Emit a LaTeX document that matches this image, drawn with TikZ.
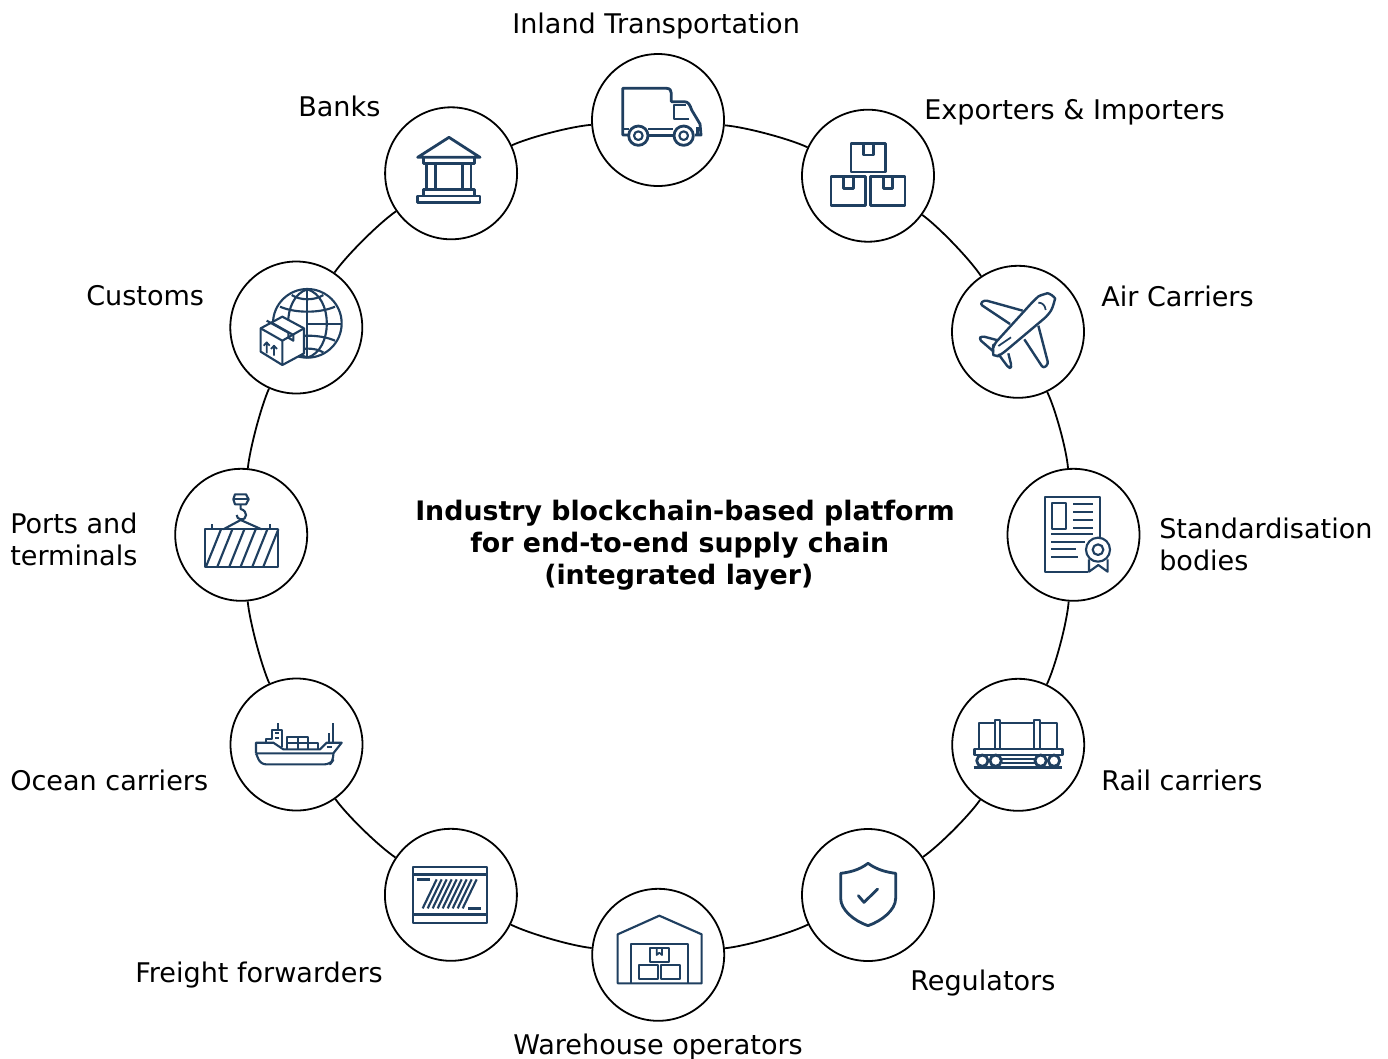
\documentclass[tikz,border=0pt]{standalone}
\usepackage{fontspec}
\setmainfont{DejaVu Sans}
\definecolor{ico}{HTML}{1F3F60}
\tikzset{
  x=0.75pt,y=-0.75pt,
  hub/.style={circle,draw=black,line width=1.35pt,minimum size=99pt,inner sep=0pt},
  ring/.style={draw=black,line width=1.35pt},
  lab/.style={anchor=base west,inner sep=0pt,font=\fontsize{20.3}{24}\selectfont},
  title/.style={anchor=base west,inner sep=0pt,font=\fontsize{20.1}{24}\selectfont\bfseries},
  zm/.style n args={2}{shift={(#1,#2)},x=0.25pt,y=-0.25pt},
  ic/.style={draw=ico,line width=2.1pt,line join=round},
  icm/.style={draw=ico,line width=1.6pt,line join=round},
  ics/.style={draw=ico,line width=1.3pt,line join=round},
  ict/.style={draw=ico,line width=2.6pt}
}
\begin{document}
\begin{tikzpicture}
\useasboundingbox[fill=white] (0,0) rectangle (1388,1058);
% hubs
\node[hub] (truck) at (658,120) {};
\node[hub] (boxes) at (868,175.7) {};
\node[hub] (plane) at (1018,331.8) {};
\node[hub] (cert) at (1073.5,534.8) {};
\node[hub] (rail) at (1018.2,744.8) {};
\node[hub] (shield) at (868,895) {};
\node[hub] (ware) at (658.2,954.8) {};
\node[hub] (freight) at (450.9,894.8) {};
\node[hub] (ship) at (296.5,744.5) {};
\node[hub] (cont) at (241.2,534.8) {};
\node[hub] (cust) at (296.3,327.5) {};
\node[hub] (bank) at (451.1,173.3) {};
% ring
\foreach \a/\b/\t in {truck/boxes/10.3,boxes/plane/10.3,plane/cert/10.6,cert/rail/10.6,rail/shield/10.3,shield/ware/10.3,ware/freight/10.3,freight/ship/10.3,ship/cont/9.2,cont/cust/9.2,cust/bank/10.3,bank/truck/10.3}
  \draw[ring] (\a) to[bend left=\t,looseness=0.6] (\b);
% labels
\node[lab] (l1) at (512,33.3) {Inland Transportation};
\node[lab] (l2) at (924,119.3) {Exporters \& Importers};
\node[lab] (l3) at (1101,306.3) {Air Carriers};
\node[lab] (l4a) at (1159,538.3) {Standardisation};
\node[lab] (l4b) at (1159,570.3) {bodies};
\node[lab] (l5) at (1101,790.3) {Rail carriers};
\node[lab] (l6) at (910,990.3) {Regulators};
\node[lab] (l7) at (513,1054.3) {Warehouse operators};
\node[lab] (l8) at (135,982.3) {Freight forwarders};
\node[lab] (l9) at (10,790.3) {Ocean carriers};
\node[lab] (l10a) at (10,533.3) {Ports and};
\node[lab] (l10b) at (10,565.3) {terminals};
\node[lab] (l11) at (86,305.3) {Customs};
\node[lab] (l12) at (298,116.3) {Banks};
\node[title] (t1) at (415,520.3) {Industry blockchain-based platform};
\node[title] (t2) at (470,552.3) {for end-to-end supply chain};
\node[title] (t3) at (544,584.3) {(integrated layer)};
% truck
\begin{scope}[zm={590}{50}]
\draw[ic] (115,255) -- (98,255) -- (98,115) -- (230,115) .. controls (240,115) and (244,122) .. (244,130) -- (244,155) -- (283,155) .. controls (295,155) and (300,165) .. (305,180) -- (330,222) -- (333,255) -- (315,255);
\draw[ic] (98,237) -- (118,237) (175,237) -- (248,237) (175,256) -- (248,256);
\draw[ic] (298,207) -- (252,207) -- (252,165) -- (288,165);
\draw[ic] (322,232) -- (322,255);
\foreach \c in {145,281}{
  \draw[ic] (\c,257) circle[radius=29];
  \draw[icm] (\c,257) circle[radius=13];
}
\end{scope}
% boxes
\begin{scope}[zm={590}{50}]
\draw[ic] (783,280) rectangle (886,366);
\draw[ic] (820,280) -- (820,315) -- (850,315) -- (850,280);
\draw[ic] (723,380) rectangle (827,467);
\draw[ic] (760,380) -- (760,415) -- (790,415) -- (790,380);
\draw[ic] (842,380) rectangle (945,467);
\draw[ic] (880,380) -- (880,415) -- (908,415) -- (908,380);
\end{scope}
% bank
\begin{scope}[zm={225}{100}]
\draw[ic] (672,112) -- (765,172) -- (578,172) -- cycle;
\draw[ic] (595,172) -- (595,190) -- (748,190) -- (748,172);
\draw[ic] (605,190) -- (605,268) (632,190) -- (632,268) (712,190) -- (712,268) (738,190) -- (738,268);
\draw[ic] (595,288) -- (595,268) -- (748,268) -- (748,288);
\draw[ic] (578,288) rectangle (765,308);
\end{scope}
% customs
\begin{scope}[zm={225}{100}]
\draw[icm] (247,670) circle[radius=103];
\draw[icm] (247,568) -- (247,773) (247,672) -- (350,672);
\draw[icm] (247,568) .. controls (170,590) and (170,750) .. (247,773);
\draw[icm] (247,568) .. controls (325,590) and (325,750) .. (247,773);
\draw[icm] (165,620) .. controls (210,640) and (285,640) .. (330,620);
\draw[icm] (200,585) .. controls (225,602) and (270,602) .. (295,585);
\draw[icm] (165,722) .. controls (210,702) and (285,702) .. (330,722);
\draw[icm] (200,757) .. controls (225,742) and (270,742) .. (295,757);
\fill[white] (172,650) -- (107,685) -- (107,755) -- (172,795) -- (237,760) -- (237,685) -- cycle;
\draw[icm] (172,650) -- (107,685) -- (107,755) -- (172,795) -- (237,760) -- (237,685) -- cycle;
\draw[icm] (107,685) -- (172,722) -- (237,685) (172,722) -- (172,795);
\draw[icm] (140,668) -- (205,705) -- (205,722) -- (190,713) -- (190,698) -- (125,662);
\draw[ics] (125,760) -- (125,727) (116,737) -- (125,727) -- (134,737);
\draw[ics] (147,767) -- (147,737) (138,747) -- (147,737) -- (156,747);
\end{scope}
% plane
\begin{scope}[zm={945}{260}]
\draw[ic,line width=1.8pt,rounded corners=4pt] (145,255) -- (268,120) .. controls (285,105) and (310,100) .. (322,102) .. controls (330,115) and (325,140) .. (310,165) -- (172,281) .. controls (160,288) and (145,285) .. (143,270) -- cycle;
\draw[ic,line width=1.8pt,rounded corners=2pt] (233,152) -- (118,120) -- (105,132) -- (195,192);
\draw[ic,line width=1.8pt,rounded corners=2pt] (280,197) -- (310,312) -- (295,325) -- (238,238);
\draw[ic,line width=1.8pt,rounded corners=2pt] (155,240) -- (110,228) -- (102,237) -- (146,275);
\draw[ic,line width=1.8pt,rounded corners=2pt] (160,282) -- (192,325) -- (200,320) -- (190,280);
\draw[ics] (160,258) -- (198,232);
\draw[ics] (280,128) .. controls (292,128) and (300,135) .. (302,150);
\end{scope}
% certificate
\begin{scope}[zm={945}{260}]
\draw[icm] (430,935) -- (300,935) -- (300,710) -- (465,710) -- (465,832);
\draw[icm] (320,730) rectangle (362,806);
\foreach \y in {733,757,780,803} \draw[icm] (385,\y) -- (443,\y);
\draw[icm] (318,822) -- (443,822);
\draw[icm] (318,845) -- (420,845) (318,868) -- (393,868) (318,891) -- (400,891);
\draw[icm] (459,869) circle[radius=36];
\draw[icm] (459,869) circle[radius=16];
\draw[icm] (432,898) -- (432,935) -- (460,915) -- (488,935) -- (488,898);
\end{scope}
% container
\begin{scope}[zm={170}{465}]
\draw[icm] (105,193) rectangle (325,305);
\foreach \b in {108,142,178,212,247,280} \draw[icm] (\b,305) -- (\b+45,193);
\draw[icm] (195,88) -- (228,88) -- (236,103) -- (228,118) -- (195,118) -- (190,103) -- cycle;
\draw[icm] (190,103) -- (236,103);
\draw[icm] (212,118) -- (212,132) .. controls (235,138) and (232,165) .. (212,163) .. controls (205,162) and (200,157) .. (200,150);
\draw[icm] (160,193) -- (212,165) -- (275,193);
\draw[icm] (125,178) -- (125,193) (300,178) -- (300,193);
\end{scope}
% ship
\begin{scope}[zm={170}{465}]
\draw[icm] (258,865) -- (258,833) -- (310,833) -- (340,853) -- (450,853) -- (470,833) -- (515,833) -- (490,865) -- (258,865);
\draw[icm,rounded corners=4pt] (258,865) -- (272,898) -- (480,898) -- (490,885) -- (490,865);
\draw[icm] (287,833) -- (287,822) -- (305,822) -- (305,795) -- (335,795) -- (335,845);
\draw[icm] (323,775) -- (323,795) (490,775) -- (490,833) (478,805) -- (478,833);
\draw[ics] (315,805) -- (327,805) (315,818) -- (327,818) (470,847) -- (485,847);
\draw[icm] (352,853) -- (352,817) -- (415,817) -- (415,853) (383,817) -- (383,853) (352,835) -- (445,835) -- (445,853);
\end{scope}
% freight
\begin{scope}[zm={380}{825}]
\draw[icm] (98,125) rectangle (320,293);
\draw[ict] (98,148) -- (320,148) (98,268) -- (320,268);
\draw[ic] (112,163) -- (150,163) (265,250) -- (302,250);
\foreach \i in {0,...,8} \draw[icm] (128+15*\i,250) -- (170+15*\i,163);
\end{scope}
% warehouse
\begin{scope}[zm={380}{825}]
\draw[icm] (713,475) -- (713,328) -- (838,272) -- (965,328) -- (965,475) -- cycle;
\draw[icm] (752,475) -- (752,358) -- (925,358) -- (925,475);
\draw[icm] (810,370) rectangle (867,410);
\draw[ics] (830,370) -- (830,390) -- (838,383) -- (846,390) -- (846,370);
\draw[icm] (778,420) rectangle (833,463);
\draw[icm] (843,420) rectangle (899,463);
\end{scope}
% shield
\begin{scope}[zm={795}{675}]
\draw[ic] (219,565) .. controls (250,587) and (280,592) .. (302,595) -- (302,670) .. controls (302,705) and (260,738) .. (219,752) .. controls (178,738) and (137,705) .. (137,670) -- (137,595) .. controls (160,592) and (190,587) .. (219,565) -- cycle;
\draw[ic,line cap=round] (190,662) -- (207,682) -- (248,642);
\end{scope}
% rail
\begin{scope}[zm={795}{675}]
\draw[icm] (600,145) -- (552,145) -- (552,222);
\draw[icm] (616,145) -- (716,145);
\draw[icm] (734,145) -- (785,145) -- (785,222);
\draw[icm] (600,222) -- (600,135) -- (616,135) -- (616,222);
\draw[icm] (716,222) -- (716,135) -- (734,135) -- (734,222);
\draw[ic] (538,222) rectangle (802,240);
\foreach \c in {562,602,737,777} \draw[ic] (\c,257) circle[radius=17];
\draw[icm] (620,252) -- (720,252) (620,264) -- (720,264);
\draw[ict] (536,277) -- (802,277);
\end{scope}
\end{tikzpicture}
\end{document}
